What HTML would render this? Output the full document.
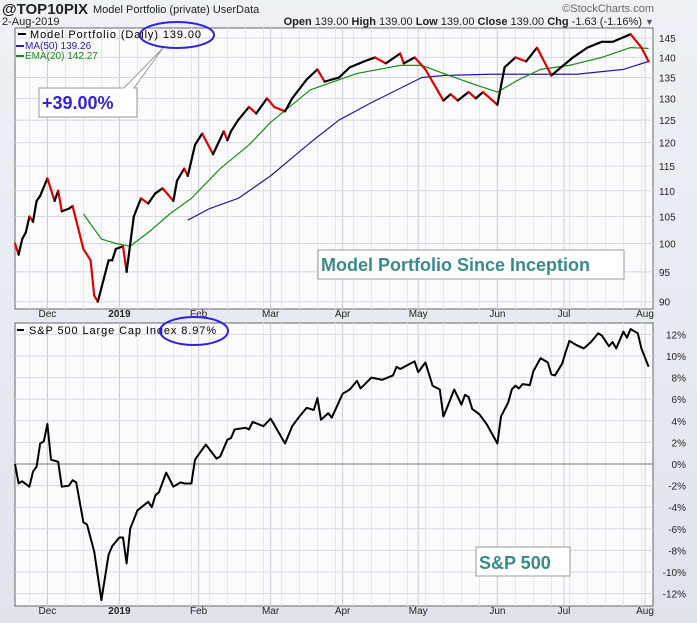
<!DOCTYPE html>
<html><head><meta charset="utf-8"><style>
body{margin:0;width:697px;height:623px;overflow:hidden;background:linear-gradient(#eef1f6,#dfe4ec);font-family:"Liberation Sans",sans-serif}
svg{display:block}
</style></head><body>
<svg id="c" width="697" height="623" font-family="Liberation Sans, sans-serif">
<text x="2" y="14" font-size="15" font-weight="bold" fill="#222">@TOP10PIX</text>
<text x="93" y="13" font-size="11" fill="#222">Model Portfolio (private) UserData</text>
<text x="654" y="12" font-size="11" fill="#666" text-anchor="end">©StockCharts.com</text>
<text x="2" y="25" font-size="11" fill="#222">2-Aug-2019</text>
<text x="642" y="25" font-size="11" fill="#222" text-anchor="end"><tspan font-weight="bold">Open</tspan> 139.00 <tspan font-weight="bold">High</tspan> 139.00 <tspan font-weight="bold">Low</tspan> 139.00 <tspan font-weight="bold">Close</tspan> 139.00 <tspan font-weight="bold">Chg</tspan> -1.63 (-1.16%)</text>
<text x="645" y="25" font-size="9" fill="#556">▼</text>
<g id="g"></g>
</svg>
<script>
const priceDays=[0,1,2,3,4,5,6,7,9,11,12,13,15,16,19,21,22,23,26,27,28,30,31,33,35,37,39,41,44,45,47,48,50,52,55,58,59,60,62,65,67,70,72,75,77,81,84,86,90,93,97,100,103,107,108,111,114,119,121,123,126,128,130,134,136,139,142,145,149,151,155,159,163,166,171,174,176];
const priceVals=[100,98,100.8,102,105,104,108,109,112.5,108,110,106,106.5,107,99,97,91,90,97,97,99,99.5,95,105,108.5,107.5,109.5,110.5,108,112,114.5,113,119.5,122,117.5,122.5,120.5,122.5,125,128,126.5,130,128,127,130,134.5,137,134,135,137.5,139,140,138.5,141,138.5,140,137,129.5,131,129.5,131.5,130,131.5,128.5,137.5,140,139,142.5,135.5,137,140,142.5,144,144,146,142.5,139];
const maDays=[48,54,62,71,82,90,99,113,119,132,156,169,176];
const maVals=[104.3,106.5,108.5,113,120,125,129,135,135.5,135.8,135.8,137,139];
const emaDays=[19,24,28,32,37,43,49,57,65,71,82,95,107,113,119,127,134,140,146,154,163,171,176];
const emaVals=[105.5,100.8,100,99.5,102,105.5,108.5,114.5,119.5,124.5,132,136,138,138,136,133.5,131.5,134.5,137,138,140,142.5,142.3];
const spxDays=[0,1,2,4,5,6,7,8,9,10,12,13,15,16,17,19,20,22,24,26,27,29,30,31,32,34,37,38,39,40,42,44,46,47,49,50,53,56,57,59,60,61,64,65,66,69,71,72,75,77,79,81,83,84,85,87,88,91,93,95,96,99,102,105,106,107,111,112,114,116,118,119,120,122,124,125,126,127,129,131,134,135,137,138,139,140,141,143,144,146,148,149,150,152,153,154,156,158,160,162,163,165,166,167,169,170,171,173,174,176];
const spxVals=[0,-1.8,-1.6,-2.1,-0.7,-0.25,1.9,2.1,3.7,0.4,0.2,-2.1,-2,-1.5,-1.7,-5.4,-5.6,-8.1,-12.6,-8.4,-7.6,-6.8,-6.8,-9.2,-6,-4.3,-3.5,-4,-2.9,-2.6,-0.8,-2.1,-1.7,-1.8,-1.8,0.4,1.8,0.5,0.7,2.25,2.4,3.2,3.35,3.2,3.9,3.5,4.2,3.65,1.9,3.5,4.4,5.2,5,6.1,4.1,4.7,4.3,6.5,6.9,7.7,7,8,7.8,8.2,9,8.8,9.5,8.5,9.4,7.25,6.9,4.4,5.2,6.9,5.5,6.4,6.2,5.1,4.6,3.7,1.9,4.4,5.7,6.9,7.25,7,7.4,7.3,8.6,9.8,9.4,8.3,8.2,9.3,10.4,11.4,11,10.7,11.3,12.1,11.9,10.9,11.3,10.7,12.25,11.7,12.5,12.1,10.7,9];
const monthLabels=["Dec","2019","Feb","Mar","Apr","May","Jun","Jul","Aug"];
const monthDays=[9,29,51,71,91,112,134,152.5,175];
const priceTicks=[90,95,100,105,110,115,120,125,130,135,140,145];
const pctTicks=[-12,-10,-8,-6,-4,-2,0,2,4,6,8,10,12];

const NS="http://www.w3.org/2000/svg";
const g=document.getElementById('g');
function mk(t,a,p){const e=document.createElementNS(NS,t);for(const k in a)e.setAttribute(k,a[k]);(p||g).appendChild(e);return e;}
const L=15,R=653,P1T=28,P1B=309,P2T=323,P2B=606;
const xS=d=>L+d*3.6;
const yP=v=>38-553*Math.log(v/145);
const yS=v=>464-v*10.8;

function panel(top,bot,name){
  const r=mk('rect',{x:L,y:top,width:R-L,height:bot-top,fill:'#fbfbfd',stroke:'#666','stroke-width':1});
  
  
  for(let d=-1;d<=178;d+=5){const x=xS(d);if(x>L&&x<R){const l=mk('line',{x1:x,x2:x,y1:top,y2:bot,stroke:'#e3e5ec','stroke-width':1});}}
  monthDays.forEach(d=>{const x=xS(d);const l=mk('line',{x1:x,x2:x,y1:top,y2:bot,stroke:'#c9ccd4','stroke-width':1});});
}
panel(P1T,P1B,'price-panel');
panel(P2T,P2B,'spx-panel');

priceTicks.forEach(v=>{const y=yP(v);
  const l=mk('line',{x1:L,x2:R,y1:y,y2:y,stroke:'#d5d8df'});
  const t=mk('text',{x:659,y:y+4,'font-size':10,fill:'#222'});t.textContent=v;});
pctTicks.forEach(v=>{const y=yS(v);
  const l=mk('line',{x1:L,x2:R,y1:y,y2:y,stroke:v===0?'#777':'#d5d8df'});
  const t=mk('text',{x:686,y:y+4,'font-size':10,fill:'#222','text-anchor':'end'});t.textContent=v+'%';});
monthLabels.forEach((m,i)=>{[317,614].forEach(y=>{const t=mk('text',{x:xS(monthDays[i]),y:y,'font-size':10,fill:'#222','text-anchor':'middle','font-weight':m==='2019'?'bold':'normal'});t.textContent=m;});});

function line(days,vals,ys,col,w,name){
  const pts=days.map((d,i)=>xS(d)+','+ys(vals[i])).join(' ');
  const p=mk('polyline',{points:pts,fill:'none',stroke:col,'stroke-width':w,'stroke-linejoin':'round'});
  
}
line(maDays,maVals,yP,'#2a1aa0',1.2,'ma50-line');
line(emaDays,emaVals,yP,'#1a8a1a',1.2,'ema20-line');
for(let i=1;i<priceDays.length;i++){
  const s=mk('line',{x1:xS(priceDays[i-1]),y1:yP(priceVals[i-1]),x2:xS(priceDays[i]),y2:yP(priceVals[i]),stroke:priceVals[i]<priceVals[i-1]?'#e00000':'#000','stroke-width':2.2,'stroke-linecap':'round'});
  
  
}
line(spxDays,spxVals,yS,'#000',2,'spx-line');

function txt(x,y,s,attrs,name){const t=mk('text',Object.assign({x:x,y:y},attrs));t.textContent=s;return t;}
mk('rect',{x:18,y:33,width:8,height:2,fill:'#000'});
txt(30,38,'Model Portfolio (Daily) 139.00',{'font-size':11,'letter-spacing':'0.9',fill:'#000'},'legend-price');
mk('rect',{x:16,y:45,width:8,height:2,fill:'#2a1aa0'});
txt(25,49,'MA(50) 139.26',{'font-size':10,fill:'#2a1aa0'},'legend-ma50');
mk('rect',{x:16,y:55,width:8,height:2,fill:'#1a8a1a'});
txt(25,59,'EMA(20) 142.27',{'font-size':10,fill:'#1a8a1a'},'legend-ema20');
mk('rect',{x:17,y:329,width:7,height:2,fill:'#000'});
txt(29,334,'S&P 500 Large Cap Index 8.97%',{'font-size':11,'letter-spacing':'0.9',fill:'#000'},'legend-spx');

const e1=mk('ellipse',{cx:177,cy:35,rx:37,ry:13,fill:'none',stroke:'#3322dd','stroke-width':2});

const e2=mk('ellipse',{cx:194,cy:331,rx:34,ry:14,fill:'none',stroke:'#3322dd','stroke-width':2});

const co=mk('polygon',{points:'39,88 124,88 163,48 134,88 137,88 137,117 39,117',fill:'#fff',stroke:'#999','stroke-width':1});

txt(42,109,'+39.00%',{'font-size':18,'font-weight':'bold',fill:'#3322dd'},'gain-callout-text');
const b1=mk('rect',{x:318,y:250,width:306,height:29,fill:'#fff',stroke:'#999'});

txt(321,271,'Model Portfolio Since Inception',{'font-size':18,'font-weight':'bold',fill:'#3a8a8a'},'title-box-text');
const b2=mk('rect',{x:476,y:547,width:94,height:29,fill:'#fff',stroke:'#999'});

txt(479,569,'S&P 500',{'font-size':18,'font-weight':'bold',fill:'#3a8a8a'},'spx-label-text');
</script>
</body></html>
